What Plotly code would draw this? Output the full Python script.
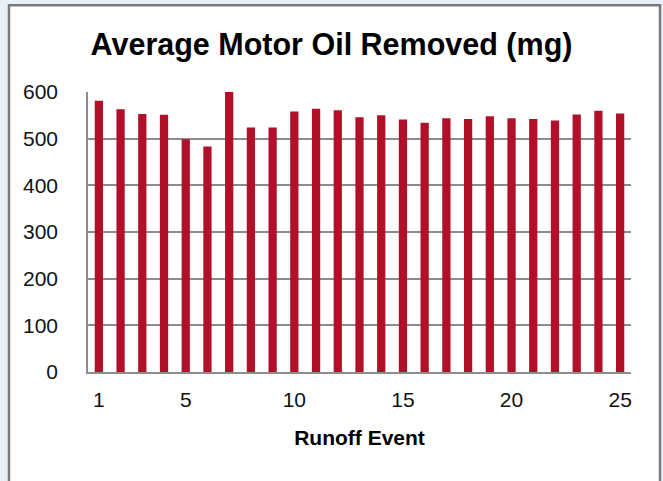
import plotly.graph_objs as go

# Runoff events 1..25 and average motor oil removed (mg)
events = list(range(1, 26))
oil_removed = [581, 563, 553, 551, 499, 483, 600, 524, 524, 558,
               564, 561, 546, 550, 541, 534, 544, 542, 548, 544,
               542, 539, 552, 560, 554]
x_ticks = [1, 5, 10, 15, 20, 25]
y_ticks = [0, 100, 200, 300, 400, 500, 600]

fig = go.Figure()
fig.add_trace(go.Bar(x=events, y=oil_removed, marker=dict(color='#B01028', line=dict(width=0)),
                     width=0.38))

# White panel with grey border on the light blue page
fig.add_shape(type='rect', xref='paper', yref='paper',
              x0=-0.1455, x1=1.0534, y0=-0.45, y1=1.31,
              line=dict(color='#7a7a7a', width=2.5), fillcolor='white', layer='below')

fig.update_layout(
    width=663, height=481,
    margin=dict(l=88, r=32, t=92, b=109),
    paper_bgcolor='#e9f0f8',
    plot_bgcolor='rgba(0,0,0,0)',
    font=dict(family='Liberation Sans, Arial', color='#111111'),
    title=dict(text='<b>Average Motor Oil Removed (mg)</b>', x=0.5, xanchor='center',
               y=0.907, yanchor='middle', font=dict(size=30.5, color='#000000')),
    showlegend=False,
)
fig.update_xaxes(range=[0.5, 25.5], tickvals=x_ticks, ticks='', showgrid=False,
                 showline=True, linecolor='#8c8c8c', linewidth=2,
                 tickfont=dict(size=21), ticklabelstandoff=8,
                 title=dict(text='<b>Runoff Event</b>',
                            font=dict(size=21, color='#000000'), standoff=20))
fig.update_yaxes(range=[0, 600], tickvals=y_ticks, ticks='', showgrid=True,
                 gridcolor='#8c8c8c', gridwidth=1.5, zeroline=False,
                 showline=True, linecolor='#8c8c8c', linewidth=1.5,
                 tickfont=dict(size=21), ticklabelstandoff=24)

# drop the default body margin so the figure sits at the window corner
fig.write_html("out.html", config={'displayModeBar': False},
               post_script="document.body.style.margin='0';document.body.style.background='#e9f0f8';")
